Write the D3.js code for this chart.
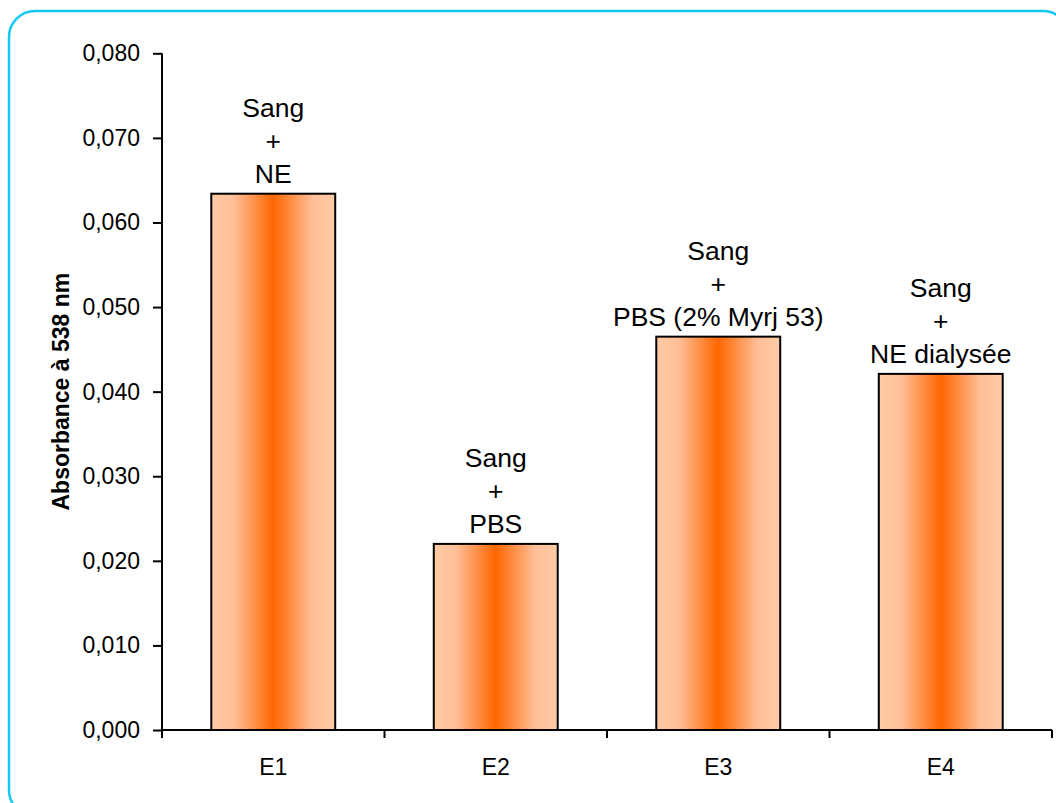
<!DOCTYPE html>
<html>
<head>
<meta charset="utf-8">
<script src="https://cdn.jsdelivr.net/npm/d3@7"></script>
<style>
  html, body { margin: 0; padding: 0; background: #ffffff; }
  svg { display: block; }
  text { font-family: "Liberation Sans", Arial, sans-serif; fill: #000; }
</style>
</head>
<body>
<svg id="chart" width="1056" height="803"></svg>
<script>
const categories = ["E1", "E2", "E3", "E4"];
const values = [0.0634, 0.0220, 0.0465, 0.0421];
const barLabels = [
  ["Sang", "+", "NE"],
  ["Sang", "+", "PBS"],
  ["Sang", "+", "PBS (2% Myrj 53)"],
  ["Sang", "+", "NE dialysée"]
];
const yTicks = [0, 0.01, 0.02, 0.03, 0.04, 0.05, 0.06, 0.07, 0.08];
const yTitle = "Absorbance à 538 nm";

const svg = d3.select("#chart");

// outer rounded frame
svg.append("rect")
  .attr("x", 9).attr("y", 11)
  .attr("width", 1060).attr("height", 805)
  .attr("rx", 26).attr("ry", 26)
  .attr("fill", "none")
  .attr("stroke", "#14C8F5")
  .attr("stroke-width", 2.5);

const x0 = 162, x1 = 1052, yBottom = 730, yTop = 53.3;

const x = d3.scaleBand().domain(categories).range([x0, x1])
  .paddingInner(0.443).paddingOuter(0.2215);
const xOuter = d3.scaleBand().domain(categories).range([x0, x1]);
const y = d3.scaleLinear().domain([0, 0.08]).range([yBottom, yTop]);

// gradient
const defs = svg.append("defs");
const grad = defs.append("linearGradient").attr("id", "barGrad")
  .attr("x1", "0%").attr("x2", "100%").attr("y1", "0%").attr("y2", "0%");
grad.append("stop").attr("offset", "0%").attr("stop-color", "#FFCBA6");
grad.append("stop").attr("offset", "18%").attr("stop-color", "#FFBF98");
grad.append("stop").attr("offset", "50%").attr("stop-color", "#FF6600");
grad.append("stop").attr("offset", "82%").attr("stop-color", "#FFBF98");
grad.append("stop").attr("offset", "100%").attr("stop-color", "#FFCBA6");

// bars
svg.append("g").selectAll("rect")
  .data(categories)
  .join("rect")
  .attr("x", d => x(d))
  .attr("width", x.bandwidth())
  .attr("y", (d, i) => y(values[i]))
  .attr("height", (d, i) => yBottom - y(values[i]))
  .attr("fill", "url(#barGrad)")
  .attr("stroke", "#000")
  .attr("stroke-width", 2);

// y axis
const yAxis = d3.axisLeft(y).tickValues(yTicks)
  .tickFormat(d => d3.format(".3f")(d).replace(".", ","))
  .tickSize(9).tickPadding(13);
const gy = svg.append("g").attr("transform", `translate(${x0},0)`).call(yAxis);
gy.select(".domain").attr("stroke", "#000").attr("stroke-width", 2)
  .attr("d", `M0,${yTop}V${yBottom}`);
gy.selectAll(".tick line").attr("stroke", "#000").attr("stroke-width", 2);
gy.selectAll(".tick text").attr("font-size", 23)
  .attr("font-family", "'Liberation Sans', Arial, sans-serif").attr("fill", "#000");

// x axis
const gx = svg.append("g").attr("transform", `translate(0,${yBottom})`);
gx.append("line").attr("x1", x0).attr("x2", x1).attr("y1", 0).attr("y2", 0)
  .attr("stroke", "#000").attr("stroke-width", 2);
const boundaries = categories.map(c => xOuter(c)).concat([x1]);
gx.selectAll("line.tk").data(boundaries).join("line").attr("class", "tk")
  .attr("x1", d => d).attr("x2", d => d).attr("y1", 0).attr("y2", 8)
  .attr("stroke", "#000").attr("stroke-width", 2);
gx.selectAll("text").data(categories).join("text")
  .attr("x", d => xOuter(d) + xOuter.bandwidth() / 2)
  .attr("y", 45)
  .attr("text-anchor", "middle")
  .attr("font-size", 23)
  .text(d => d);

// bar labels
categories.forEach((c, i) => {
  const lines = barLabels[i];
  const cx = x(c) + x.bandwidth() / 2;
  const top = y(values[i]);
  lines.forEach((t, j) => {
    svg.append("text")
      .attr("x", cx)
      .attr("y", top - 11 - (lines.length - 1 - j) * 33)
      .attr("text-anchor", "middle")
      .attr("font-size", 26.5)
      .text(t);
  });
});

// y title
svg.append("text")
  .attr("transform", `translate(69,${(yTop + yBottom) / 2}) rotate(-90)`)
  .attr("text-anchor", "middle")
  .attr("font-size", 23)
  .attr("font-weight", "bold")
  .text(yTitle);
</script>
</body>
</html>
